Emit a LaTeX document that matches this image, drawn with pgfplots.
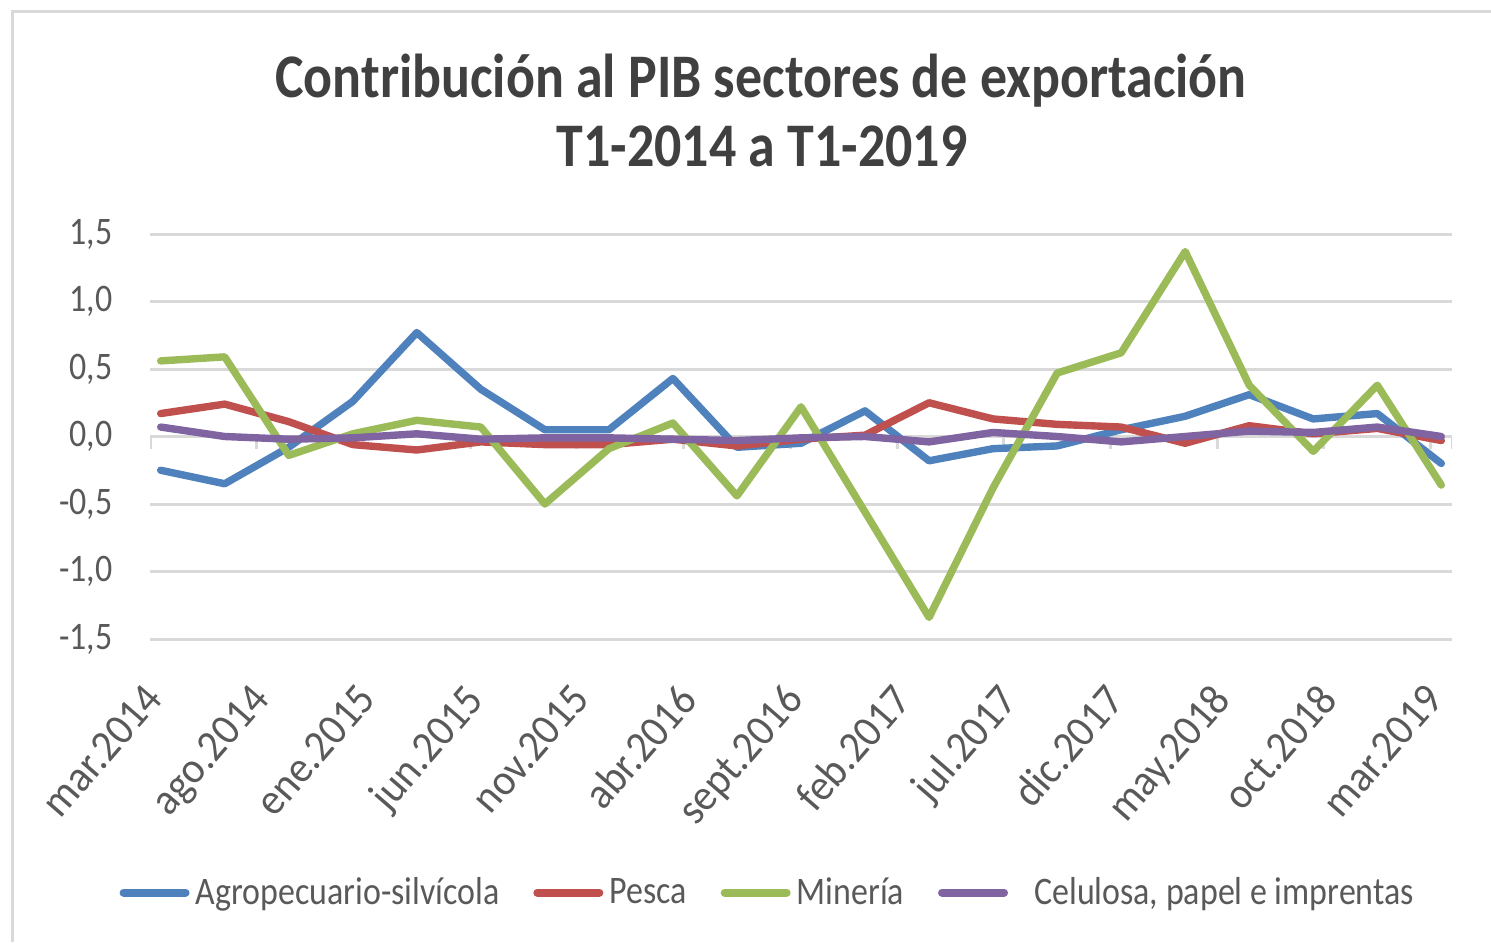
\documentclass[border=0pt]{standalone}
\usepackage{fontspec}
\setmainfont{Carlito}[FakeStretch=0.87]
\newfontfamily\xlabfont{Carlito}[FakeStretch=0.94]
\usepackage{pgfplots}
\pgfplotsset{compat=1.18}
\definecolor{cA}{HTML}{4F81BD}
\definecolor{cB}{HTML}{C0504D}
\definecolor{cC}{HTML}{9BBB59}
\definecolor{cD}{HTML}{8064A2}
\definecolor{gridc}{HTML}{D9D9D9}
\definecolor{txt}{HTML}{595959}
\definecolor{ttl}{HTML}{404040}
\begin{document}
\begin{tikzpicture}
\useasboundingbox (0,0) rectangle (745.5pt,471pt);
\draw[gridc, line width=1.5pt] (6pt,0) -- (6pt,465pt) -- (745.5pt,465pt);
\node[anchor=base, text=ttl, font=\fontsize{31}{34.5}\selectfont\bfseries, inner sep=0pt] at (380.5pt,422pt) {Contribución al PIB sectores de exportación};
\node[anchor=base, text=ttl, font=\fontsize{31}{34.5}\selectfont\bfseries, inner sep=0pt] at (381pt,387.5pt) {T1-2014 a T1-2019};
\begin{axis}[
  at={(75pt,151.5pt)}, anchor=south west,
  scale only axis, width=651pt, height=202.5pt,
  xmin=-0.5, xmax=60.5, ymin=-1.5, ymax=1.5,
  axis line style={draw=none},
  major tick length=0pt,
  ytick={-1.5,-1,-0.5,0,0.5,1,1.5},
  ymajorgrids, grid style={gridc, line width=1.5pt},
  xtick={0,5,...,60},
  xticklabels={mar.2014,ago.2014,ene.2015,jun.2015,nov.2015,abr.2016,sept.2016,feb.2017,jul.2017,dic.2017,may.2018,oct.2018,mar.2019},
  yticklabel style={font=\fontsize{19.5}{23}\selectfont, text=txt, inner sep=0pt, anchor=east, xshift=-18.5pt},
  xticklabel style={font=\fontsize{22}{25}\selectfont\xlabfont, text=txt, inner sep=0pt, xshift=-9pt, yshift=-21pt, rotate=49, anchor=north east},
  /pgf/number format/.cd, use comma, fixed, fixed zerofill, precision=1, assume math mode=true,
  /pgfplots/.cd,
  every axis plot/.append style={line width=3.7pt, line join=round, line cap=round},
  legend image code/.code={\path (0pt,0pt) (35pt,0pt); \draw[#1, line width=4pt, line cap=round] (2pt,0pt) -- (33pt,0pt);},
  legend style={draw=none, fill=none, at={(-0.0265,-0.626)}, anchor=west, legend columns=4, inner sep=0pt,
    font=\fontsize{19.5}{23}\selectfont, text=txt, nodes={inner sep=1.25pt},
    /tikz/every even column/.append style={column sep=13.8pt}},
  legend cell align=left,
]
\pgfplotsinvokeforeach{-0.5,4.5,9.5,14.5,19.5,24.5,29.5,34.5,39.5,44.5,49.5,54.5,59.5,60.5}{
  \draw[gridc, line width=1.5pt] (axis cs:#1,0) -- ++(0pt,-6pt);
}
\addplot[cA] coordinates {(0,-0.25) (3,-0.35) (6,-0.08) (9,0.26) (12,0.77) (15,0.35) (18,0.05) (21,0.05) (24,0.43) (27,-0.08) (30,-0.05) (33,0.19) (36,-0.18) (39,-0.09) (42,-0.07) (45,0.05) (48,0.15) (51,0.31) (54,0.13) (57,0.17) (60,-0.20)};
\addlegendentry{Agropecuario-silvícola}
\addplot[cB] coordinates {(0,0.17) (3,0.24) (6,0.11) (9,-0.06) (12,-0.10) (15,-0.04) (18,-0.06) (21,-0.06) (24,-0.02) (27,-0.07) (30,-0.02) (33,0.01) (36,0.25) (39,0.13) (42,0.09) (45,0.07) (48,-0.05) (51,0.08) (54,0.02) (57,0.06) (60,-0.03)};
\addlegendentry{Pesca}
\addplot[cC] coordinates {(0,0.56) (3,0.59) (6,-0.14) (9,0.02) (12,0.12) (15,0.07) (18,-0.50) (21,-0.09) (24,0.10) (27,-0.44) (30,0.22) (33,-0.56) (36,-1.34) (39,-0.38) (42,0.47) (45,0.62) (48,1.37) (51,0.38) (54,-0.11) (57,0.38) (60,-0.36)};
\addlegendentry{Minería}
\addplot[cD] coordinates {(0,0.07) (3,0.00) (6,-0.02) (9,-0.01) (12,0.02) (15,-0.02) (18,-0.01) (21,-0.01) (24,-0.02) (27,-0.03) (30,-0.01) (33,0.00) (36,-0.04) (39,0.03) (42,0.00) (45,-0.04) (48,0.00) (51,0.04) (54,0.03) (57,0.07) (60,0.00)};
\addlegendentry{\hspace*{10pt}Celulosa, papel e imprentas}
\end{axis}
\end{tikzpicture}
\end{document}
